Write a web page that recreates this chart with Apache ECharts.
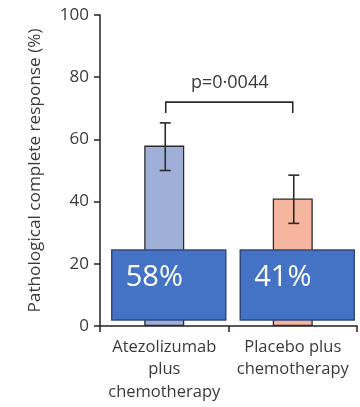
<!DOCTYPE html>
<html>
<head>
<meta charset="utf-8">
<script src="https://cdn.jsdelivr.net/npm/echarts@6/dist/echarts.min.js"></script>
<style>
  html, body { margin: 0; padding: 0; background: #fff; }
  #chart { width: 360px; height: 407px; }
</style>
</head>
<body>
<div id="chart"></div>
<script>
// Pathological complete response by treatment arm
const categories = ['Atezolizumab\nplus\nchemotherapy', 'Placebo plus\nchemotherapy'];
const responseRate = [58, 41];          // % of patients
const ciLow = [50, 33];                 // lower bound of 95% CI
const ciHigh = [65.3, 48.5];            // upper bound of 95% CI
const yTicks = [0, 20, 40, 60, 80, 100];
const pValueText = 'p=0·0044';
const barColors = ['#a0afd7', '#f6b59e'];

const FONT = '"Open Sans", "Noto Sans", sans-serif';
const AXIS_COLOR = '#222';
const TEXT_COLOR = '#3a3a3a';

const chart = echarts.init(document.getElementById('chart'), null, { renderer: 'canvas' });

const option = {
  animation: false,
  backgroundColor: '#fff',
  grid: { left: 100, right: 3, top: 15, bottom: 81, containLabel: false },
  xAxis: {
    type: 'category',
    data: categories,
    boundaryGap: true,
    axisLine: { lineStyle: { color: AXIS_COLOR, width: 1.5 } },
    axisTick: { show: true, length: 6, inside: false, lineStyle: { color: AXIS_COLOR, width: 1.5 } },
    axisLabel: {
      color: TEXT_COLOR, fontFamily: FONT, fontSize: 16.5, lineHeight: 22.5, margin: 10, interval: 0
    }
  },
  yAxis: {
    type: 'value',
    min: yTicks[0],
    max: yTicks[yTicks.length - 1],
    interval: 20,
    name: 'Pathological complete response (%)',
    nameLocation: 'middle',
    nameGap: 56,
    nameTextStyle: { color: TEXT_COLOR, fontFamily: FONT, fontSize: 17.2 },
    axisLine: { show: true, lineStyle: { color: AXIS_COLOR, width: 1.5 } },
    axisTick: { show: true, length: 6, lineStyle: { color: AXIS_COLOR, width: 1.5 } },
    axisLabel: { color: TEXT_COLOR, fontFamily: FONT, fontSize: 17, margin: 11 },
    splitLine: { show: false }
  },
  series: [
    {
      type: 'bar',
      barWidth: 40,
      data: responseRate.map((v, i) => ({
        value: v,
        itemStyle: { color: barColors[i], borderColor: '#2b2b2b', borderWidth: 1.3 }
      })),
      z: 2
    },
    {
      // confidence interval whiskers
      type: 'custom',
      data: responseRate.map((v, i) => [i, ciLow[i], ciHigh[i]]),
      renderItem: function (params, api) {
        const lo = api.coord([api.value(0), api.value(1)]);
        const hi = api.coord([api.value(0), api.value(2)]);
        const x = lo[0] + 1;
        const cap = 5.5;
        const style = { stroke: '#2b2b2b', lineWidth: 1.6 };
        return {
          type: 'group',
          children: [
            { type: 'line', shape: { x1: x, y1: lo[1], x2: x, y2: hi[1] }, style: style },
            { type: 'line', shape: { x1: x - cap, y1: hi[1], x2: x + cap, y2: hi[1] }, style: style },
            { type: 'line', shape: { x1: x - cap, y1: lo[1], x2: x + cap, y2: lo[1] }, style: style }
          ]
        };
      },
      z: 3
    },
    {
      // significance bracket between the two arms
      type: 'custom',
      data: [[0, 1, 72, 68.5]],
      renderItem: function (params, api) {
        const a = api.coord([api.value(0), api.value(2)]);
        const b = api.coord([api.value(1), api.value(2)]);
        const legEnd = api.coord([api.value(0), api.value(3)])[1];
        const xa = a[0] + 1.5, xb = b[0];
        const style = { stroke: '#2b2b2b', lineWidth: 1.6, fill: null };
        return {
          type: 'group',
          children: [
            { type: 'polyline', shape: { points: [[xa, legEnd], [xa, a[1]], [xb, a[1]], [xb, legEnd]] }, style: style },
            {
              type: 'text',
              style: {
                text: pValueText, x: (xa + xb) / 2 + 0.5, y: a[1] - 10,
                align: 'center', verticalAlign: 'bottom',
                fill: TEXT_COLOR, font: '18px ' + FONT
              }
            }
          ]
        };
      },
      z: 3
    },
    {
      // highlighted percentage boxes over the bars
      type: 'custom',
      data: responseRate.map((v, i) => [i, v]),
      renderItem: function (params, api) {
        const top = api.coord([api.value(0), 24.4]);
        const bottom = api.coord([api.value(0), 1.9]);
        const cx = top[0] + 4.5;
        const w = 114;
        const left = cx - w / 2;
        return {
          type: 'group',
          children: [
            {
              type: 'rect',
              shape: { x: left, y: top[1], width: w, height: bottom[1] - top[1] },
              style: { fill: '#4472c4', stroke: '#2f4a80', lineWidth: 1.5 }
            },
            {
              type: 'text',
              style: {
                text: api.value(1) + '%', x: left + 14, y: top[1] + 28,
                align: 'left', verticalAlign: 'middle',
                fill: '#ffffff', font: '29px ' + FONT
              }
            }
          ]
        };
      },
      z: 5
    }
  ]
};

chart.setOption(option);
</script>
</body>
</html>
